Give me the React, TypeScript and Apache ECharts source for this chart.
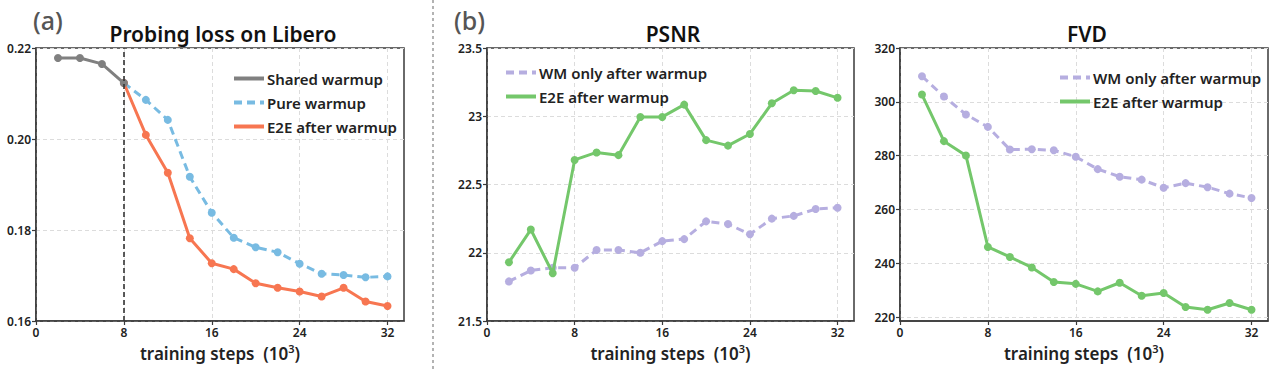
import React, { useEffect, useRef } from "react";
import * as echarts from "echarts";

// Training steps (x 10^3)
const stepsShared = [2, 4, 6, 8];
const stepsAfter = [8, 10, 12, 14, 16, 18, 20, 22, 24, 26, 28, 30, 32];
const stepsAll = [2, 4, 6, 8, 10, 12, 14, 16, 18, 20, 22, 24, 26, 28, 30, 32];

// (a) Probing loss on Libero
const sharedWarmup = [0.2178, 0.2178, 0.2165, 0.2123];
const pureWarmup = [0.2123, 0.2086, 0.2042, 0.1917, 0.1838, 0.1783, 0.1762, 0.1751, 0.1726, 0.1704, 0.1701, 0.1696, 0.1698];
const e2eLoss = [0.2123, 0.2009, 0.1926, 0.1782, 0.1727, 0.1714, 0.1683, 0.1673, 0.1665, 0.1654, 0.1673, 0.1643, 0.1633];

// (b) PSNR
const psnrWm = [21.79, 21.87, 21.89, 21.89, 22.02, 22.02, 22.0, 22.085, 22.1, 22.23, 22.21, 22.135, 22.25, 22.27, 22.32, 22.33];
const psnrE2E = [21.93, 22.17, 21.85, 22.68, 22.735, 22.715, 22.995, 22.995, 23.085, 22.825, 22.785, 22.87, 23.095, 23.19, 23.185, 23.135];

// (b) FVD
const fvdWm = [309.5, 302.0, 295.3, 290.7, 282.3, 282.4, 282.0, 279.6, 275.0, 272.2, 271.1, 268.1, 269.8, 268.3, 265.9, 264.3];
const fvdE2E = [302.7, 285.4, 280.1, 246.1, 242.4, 238.5, 233.1, 232.4, 229.6, 232.8, 228.0, 229.0, 223.8, 222.8, 225.3, 222.8];

const xTicks = [0, 8, 16, 24, 32];
const fvdTicks = [220, 240, 260, 280, 300, 320];

const C_GRAY = "#808080";
const C_BLUE = "#78bbe2";
const C_ORANGE = "#f77651";
const C_PURPLE = "#b6aee0";
const C_GREEN = "#74c76b";
const AXIS = "#3a3a3a";
const FONT = "'Noto Sans', 'Open Sans', sans-serif";

const zip = (xs: number[], ys: number[]) => xs.map((x, i) => [x, ys[i]]);

const grids = [
  { left: 36, top: 48, width: 368, height: 273 },
  { left: 487, top: 48, width: 367, height: 273 },
  { left: 900, top: 48, width: 368, height: 273 },
];

const xAxis = (idx: number) => ({
  type: "value",
  gridIndex: idx,
  min: 0,
  max: 33.5,
  interval: 8,
  name: "{t|training steps  (10}{s|3}{t|)}",
  nameLocation: "middle",
  nameGap: 19,
  nameTextStyle: {
    rich: {
      t: { fontFamily: FONT, fontSize: 17, fontWeight: 600, color: "#222", lineHeight: 22 },
      s: { fontFamily: FONT, fontSize: 11, fontWeight: 600, color: "#222", verticalAlign: "top", lineHeight: 22, padding: [0, 0, 9, 0] },
    },
  },
  axisLine: { show: true, lineStyle: { color: AXIS, width: 1.5 } },
  axisTick: { show: true, length: 4, customValues: xTicks, lineStyle: { color: AXIS, width: 1.2 } },
  axisLabel: { customValues: xTicks, margin: 5, fontFamily: FONT, fontSize: 12, fontWeight: 600, color: "#222" },
  splitLine: { show: true, lineStyle: { color: "#dcdcdc", type: [4, 3], width: 1 } },
});

const yAxisBase = {
  type: "value",
  axisLine: { show: true, lineStyle: { color: AXIS, width: 1.5 } },
  axisTick: { show: true, length: 4, lineStyle: { color: AXIS, width: 1.2 } },
  axisLabel: { margin: 5, fontFamily: FONT, fontSize: 12, fontWeight: 600, color: "#222" },
  splitLine: { show: true, lineStyle: { color: "#dcdcdc", type: [4, 3], width: 1 } },
};

const lineSeries = (name: string, xi: number, data: number[][], color: string, dashed: boolean, z = 2) => ({
  name,
  type: "line",
  xAxisIndex: xi,
  yAxisIndex: xi,
  data,
  z,
  symbol: "circle",
  symbolSize: 8,
  showSymbol: true,
  lineStyle: { color, width: 3, type: dashed ? [8, 5] : "solid" },
  itemStyle: { color },
  emphasis: { disabled: true },
});

const legend = (left: number, top: number, names: string[]) => ({
  left,
  top,
  orient: "vertical",
  itemWidth: 30,
  itemHeight: 14,
  itemGap: 9,
  data: names,
  itemStyle: { opacity: 0 },
  lineStyle: { width: 4 },
  textStyle: { fontFamily: FONT, fontSize: 15, fontWeight: 600, color: "#222", padding: [0, 0, 0, -2] },
  selectedMode: false,
});

export default function App() {
  const ref = useRef<HTMLDivElement>(null);

  useEffect(() => {
    if (!ref.current) return;
    const chart = echarts.init(ref.current, null, { renderer: "svg" });

    const option = {
      animation: false,
      backgroundColor: "#ffffff",
      grid: grids.map((g) => ({ ...g, show: true, borderColor: AXIS, borderWidth: 1.5, backgroundColor: "transparent" })),
      xAxis: [xAxis(0), xAxis(1), xAxis(2)],
      yAxis: [
        {
          ...yAxisBase,
          gridIndex: 0,
          min: 0.16,
          max: 0.22,
          interval: 0.02,
          axisLabel: { ...yAxisBase.axisLabel, formatter: (v: number) => v.toFixed(2) },
        },
        { ...yAxisBase, gridIndex: 1, min: 21.5, max: 23.5, interval: 0.5 },
        {
          ...yAxisBase,
          gridIndex: 2,
          min: 218.6,
          max: 320,
          splitNumber: 5,
          axisTick: { ...yAxisBase.axisTick, customValues: fvdTicks },
          axisLabel: { ...yAxisBase.axisLabel, customValues: fvdTicks },
        },
      ],
      legend: [
        legend(227, 66, ["Shared warmup", "Pure warmup", "E2E after warmup"]),
        legend(499, 60, ["WM only after warmup", "E2E after warmup "]),
        legend(1053, 65, ["WM only after warmup ", "E2E after warmup  "]),
      ],
      title: [
        { text: "Probing loss on Libero", left: 218, top: 18, textAlign: "center", textStyle: { fontFamily: FONT, fontSize: 21, fontWeight: 600, color: "#111" } },
        { text: "PSNR", left: 668, top: 18, textAlign: "center", textStyle: { fontFamily: FONT, fontSize: 21, fontWeight: 600, color: "#111" } },
        { text: "FVD", left: 1082, top: 18, textAlign: "center", textStyle: { fontFamily: FONT, fontSize: 21, fontWeight: 600, color: "#111" } },
        { text: "(a)", left: 28, top: 2, textStyle: { fontFamily: FONT, fontSize: 25, fontWeight: 500, color: "#555" } },
        { text: "(b)", left: 449, top: 2, textStyle: { fontFamily: FONT, fontSize: 25, fontWeight: 500, color: "#555" } },
      ],
      graphic: [
        {
          type: "line",
          shape: { x1: 433, y1: 0, x2: 433, y2: 372 },
          style: { stroke: "#9a9a9a", lineWidth: 1.5, lineDash: [3, 3] },
        },
      ],
      series: [
        {
          ...lineSeries("Shared warmup", 0, zip(stepsShared, sharedWarmup), C_GRAY, false, 4),
          markLine: {
            silent: true,
            symbol: "none",
            label: { show: false },
            lineStyle: { color: "#333", width: 1.6, type: [5, 3] },
            data: [{ xAxis: 8 }],
          },
        },
        lineSeries("Pure warmup", 0, zip(stepsAfter, pureWarmup), C_BLUE, true),
        lineSeries("E2E after warmup", 0, zip(stepsAfter, e2eLoss), C_ORANGE, false, 3),
        lineSeries("WM only after warmup", 1, zip(stepsAll, psnrWm), C_PURPLE, true),
        lineSeries("E2E after warmup ", 1, zip(stepsAll, psnrE2E), C_GREEN, false, 3),
        lineSeries("WM only after warmup ", 2, zip(stepsAll, fvdWm), C_PURPLE, true),
        lineSeries("E2E after warmup  ", 2, zip(stepsAll, fvdE2E), C_GREEN, false, 3),
      ],
    };

    chart.setOption(option as any);
    return () => chart.dispose();
  }, []);

  return (
    <div
      ref={ref}
      style={{ position: "fixed", left: 0, top: 0, width: 1280, height: 372, background: "#fff" }}
    />
  );
}
